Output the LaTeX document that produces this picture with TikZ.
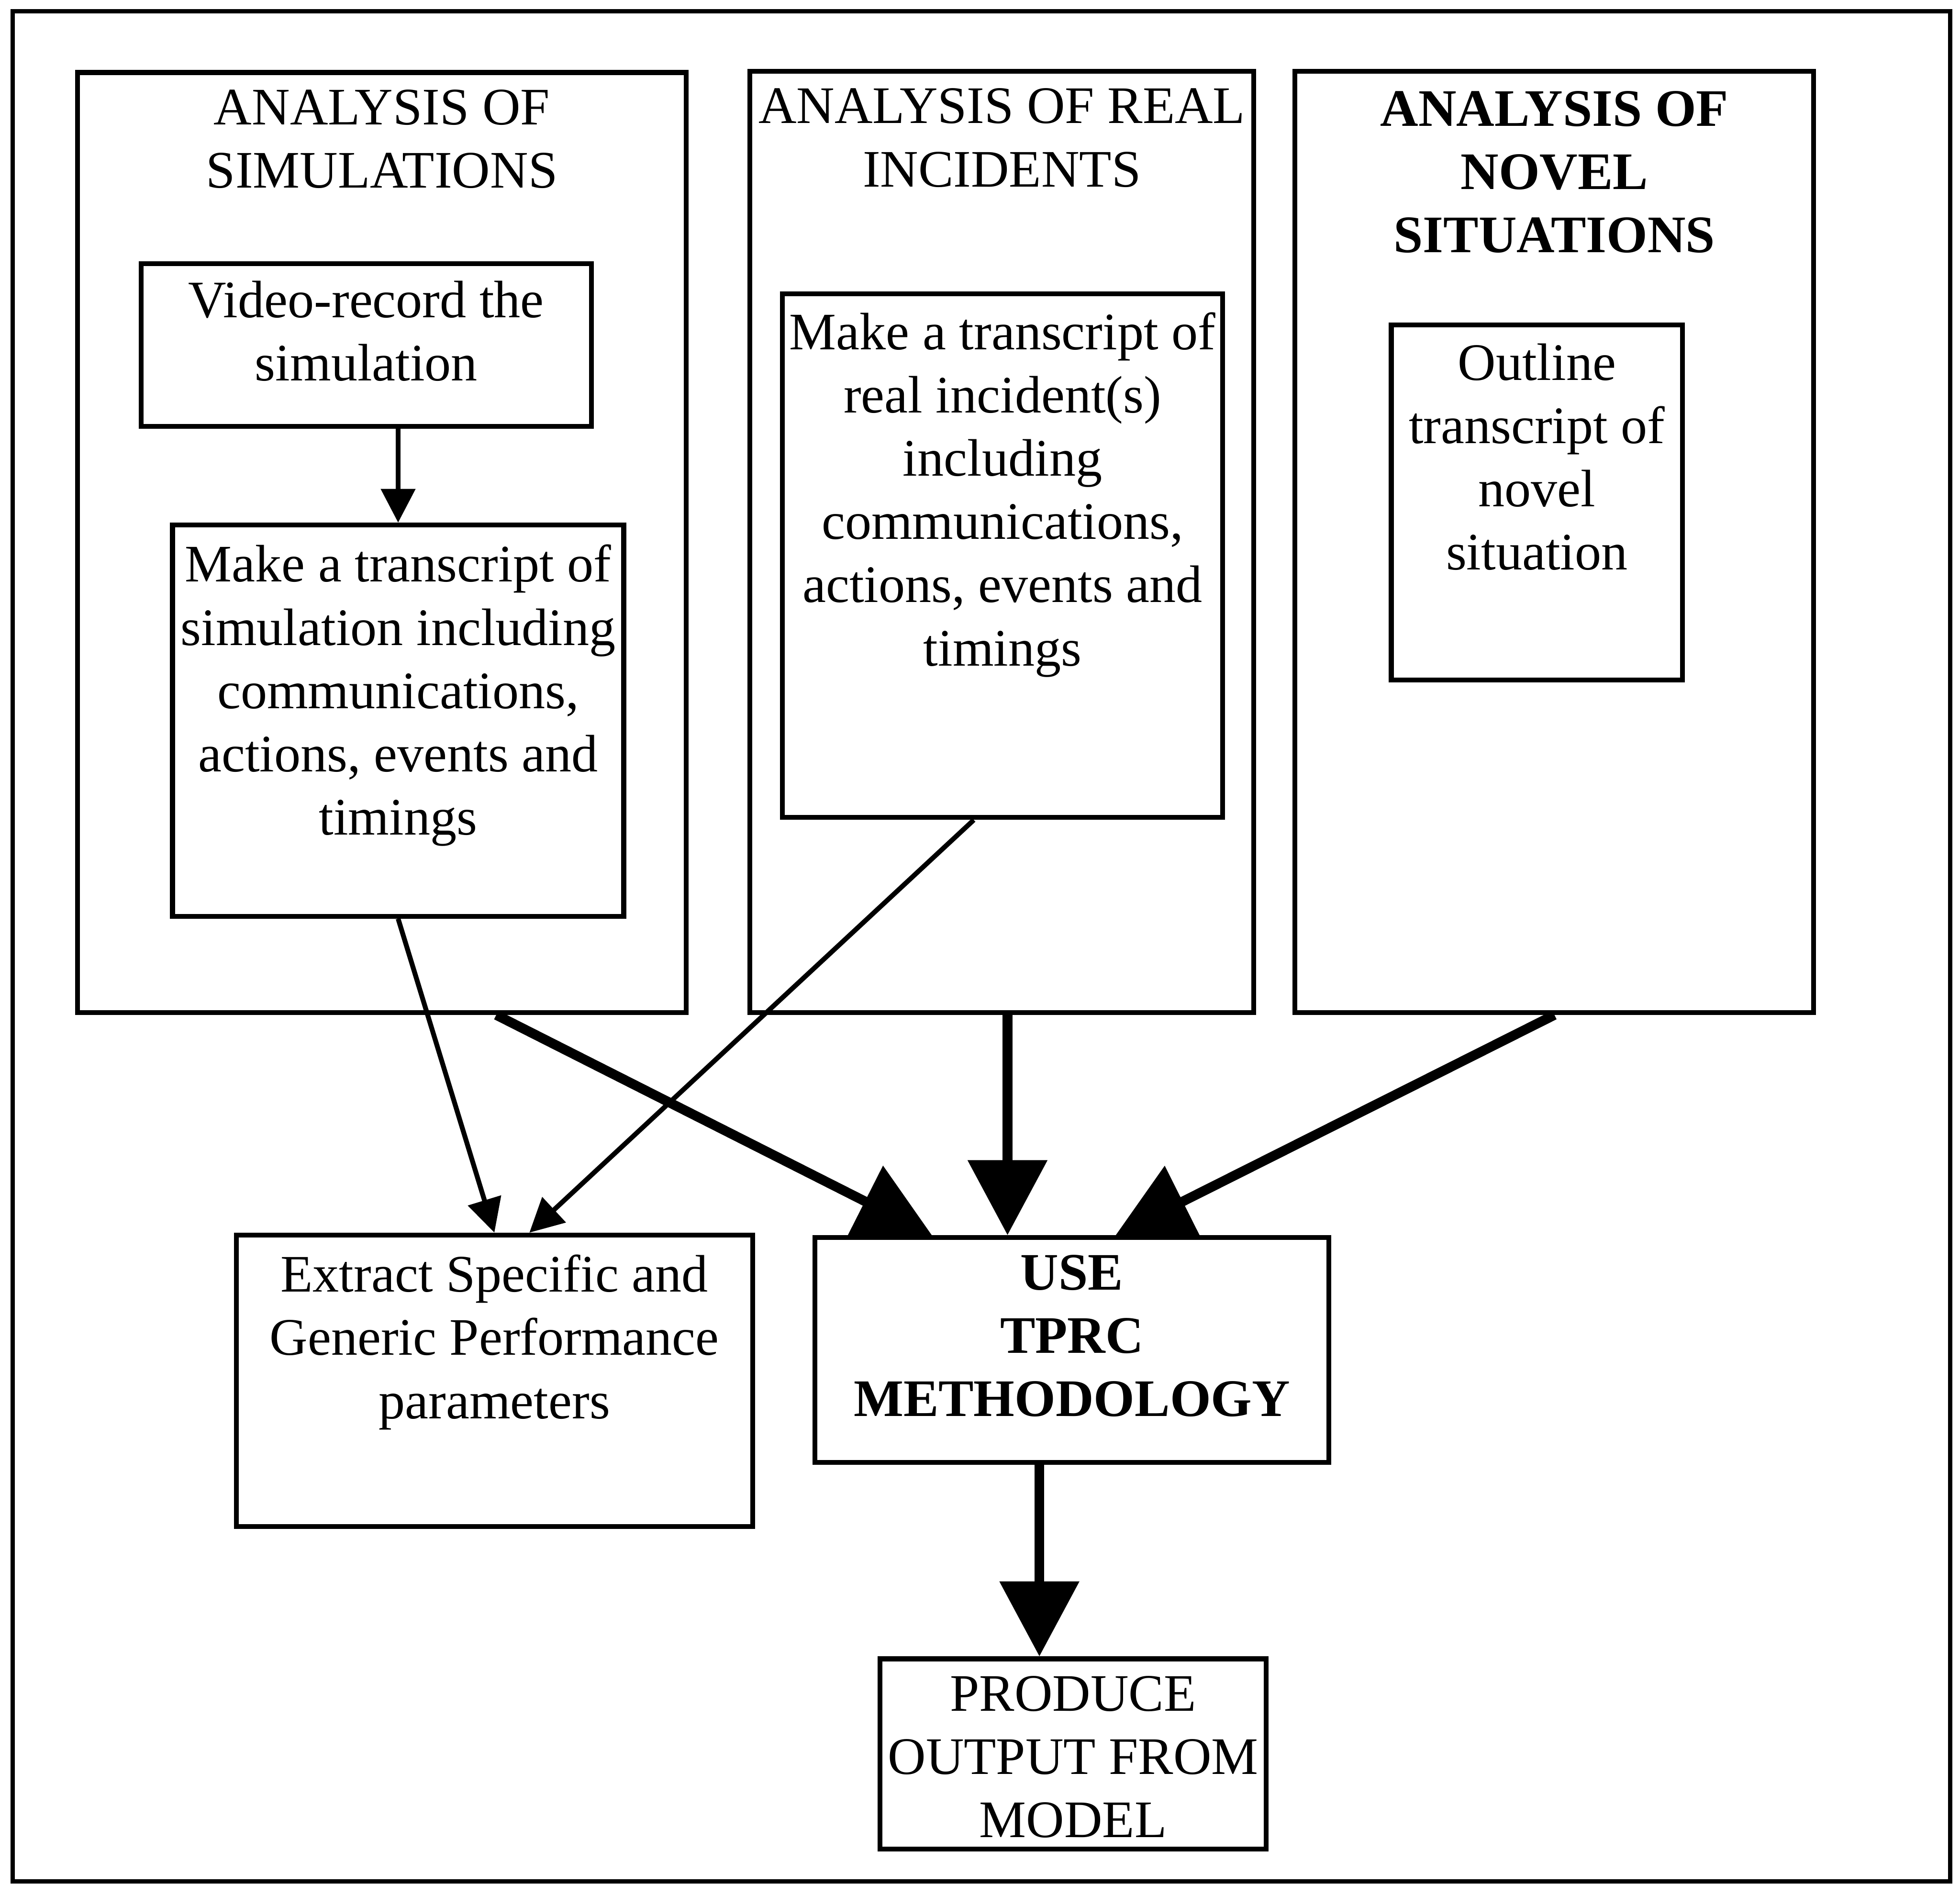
\documentclass[tikz,border=0pt]{standalone}
\usepackage{fontspec}
\setmainfont{Liberation Serif}
\usetikzlibrary{positioning,arrows.meta}

\begin{document}
\begin{tikzpicture}[
    box/.style={draw, rectangle, line width=1.1pt, inner sep=0pt},
    txt/.style={align=center, inner sep=0pt, font=\fontsize{12}{14.4}\selectfont},
    smallarrow/.style={line width=1.1pt, -{Triangle[length=0.27cm,width=0.27cm]}},
    bigarrow/.style={line width=2.2pt, -{Triangle[length=0.6cm,width=0.62cm]}}]
    \useasboundingbox (0,0) rectangle (15.68,-15.07);
    \draw[line width=1pt] (0.10,-0.09) rectangle (15.60,-15.05);

    \node[box, minimum width=4.87cm, minimum height=7.52cm] (sim) at (3.055,-4.34) {};
    \node[txt, below=0.15cm of sim.north] (simtitle) {ANALYSIS OF\\SIMULATIONS};
    \node[box, minimum width=3.60cm, minimum height=1.30cm] (video) at (2.93,-2.76) {};
    \node[txt, below=0.15cm of video.north] (videotext) {Video-record the\\simulation};
    \node[box, minimum width=3.61cm, minimum height=3.13cm] (trsim) at (3.185,-5.765) {};
    \node[txt, below=0.17cm of trsim.north] (trsimtext) {Make a transcript of\\simulation including\\communications,\\actions, events and\\timings};

    \node[box, minimum width=4.03cm, minimum height=7.53cm] (real) at (8.015,-4.335) {};
    \node[txt, below=0.15cm of real.north] (realtitle) {ANALYSIS OF REAL\\INCIDENTS};
    \node[box, minimum width=3.52cm, minimum height=4.19cm] (trreal) at (8.02,-4.445) {};
    \node[txt, below=0.16cm of trreal.north] (trrealtext) {Make a transcript of\\real incident(s)\\including\\communications,\\actions, events and\\timings};

    \node[box, minimum width=4.15cm, minimum height=7.53cm] (novel) at (12.435,-4.335) {};
    \node[txt, font=\fontsize{12}{14.4}\selectfont\bfseries, below=0.17cm of novel.north] (noveltitle) {ANALYSIS OF\\NOVEL\\SITUATIONS};
    \node[box, minimum width=2.33cm, minimum height=2.84cm] (outline) at (12.295,-4.02) {};
    \node[txt, below=0.16cm of outline.north] (outlinetext) {Outline\\transcript of\\novel\\situation};

    \node[box, minimum width=4.13cm, minimum height=2.33cm] (extract) at (3.955,-11.045) {};
    \node[txt, below=0.17cm of extract.north] (extracttext) {Extract Specific and\\Generic Performance\\parameters};
    \node[box, minimum width=4.11cm, minimum height=1.80cm] (use) at (8.575,-10.80) {};
    \node[txt, font=\fontsize{12}{14.4}\selectfont\bfseries, below=0.15cm of use.north] (usetext) {USE\\TPRC\\METHODOLOGY};
    \node[box, minimum width=3.09cm, minimum height=1.52cm] (produce) at (8.585,-14.03) {};
    \node[txt, below=0.15cm of produce.north] (producetext) {PRODUCE\\OUTPUT FROM\\MODEL};

    \draw[smallarrow] (trsim.north |- video.south) -- (trsim.north);
    \draw[smallarrow] (trsim.south) -- (extract.north);
    \draw[smallarrow] ([xshift=-0.23cm]trreal.south) -- ([xshift=0.28cm]extract.north);

    \draw[bigarrow] ([xshift=0.915cm]sim.south) -- ([xshift=-1.12cm]use.north);
    \draw[bigarrow] ([xshift=0.045cm]real.south) -- ([xshift=0.045cm]real.south |- use.north);
    \draw[bigarrow] (novel.south) -- ([xshift=0.35cm]use.north);
    \draw[bigarrow] ([xshift=-0.26cm]use.south) -- ([xshift=-0.26cm]use.south |- produce.north);
\end{tikzpicture}
\end{document}
